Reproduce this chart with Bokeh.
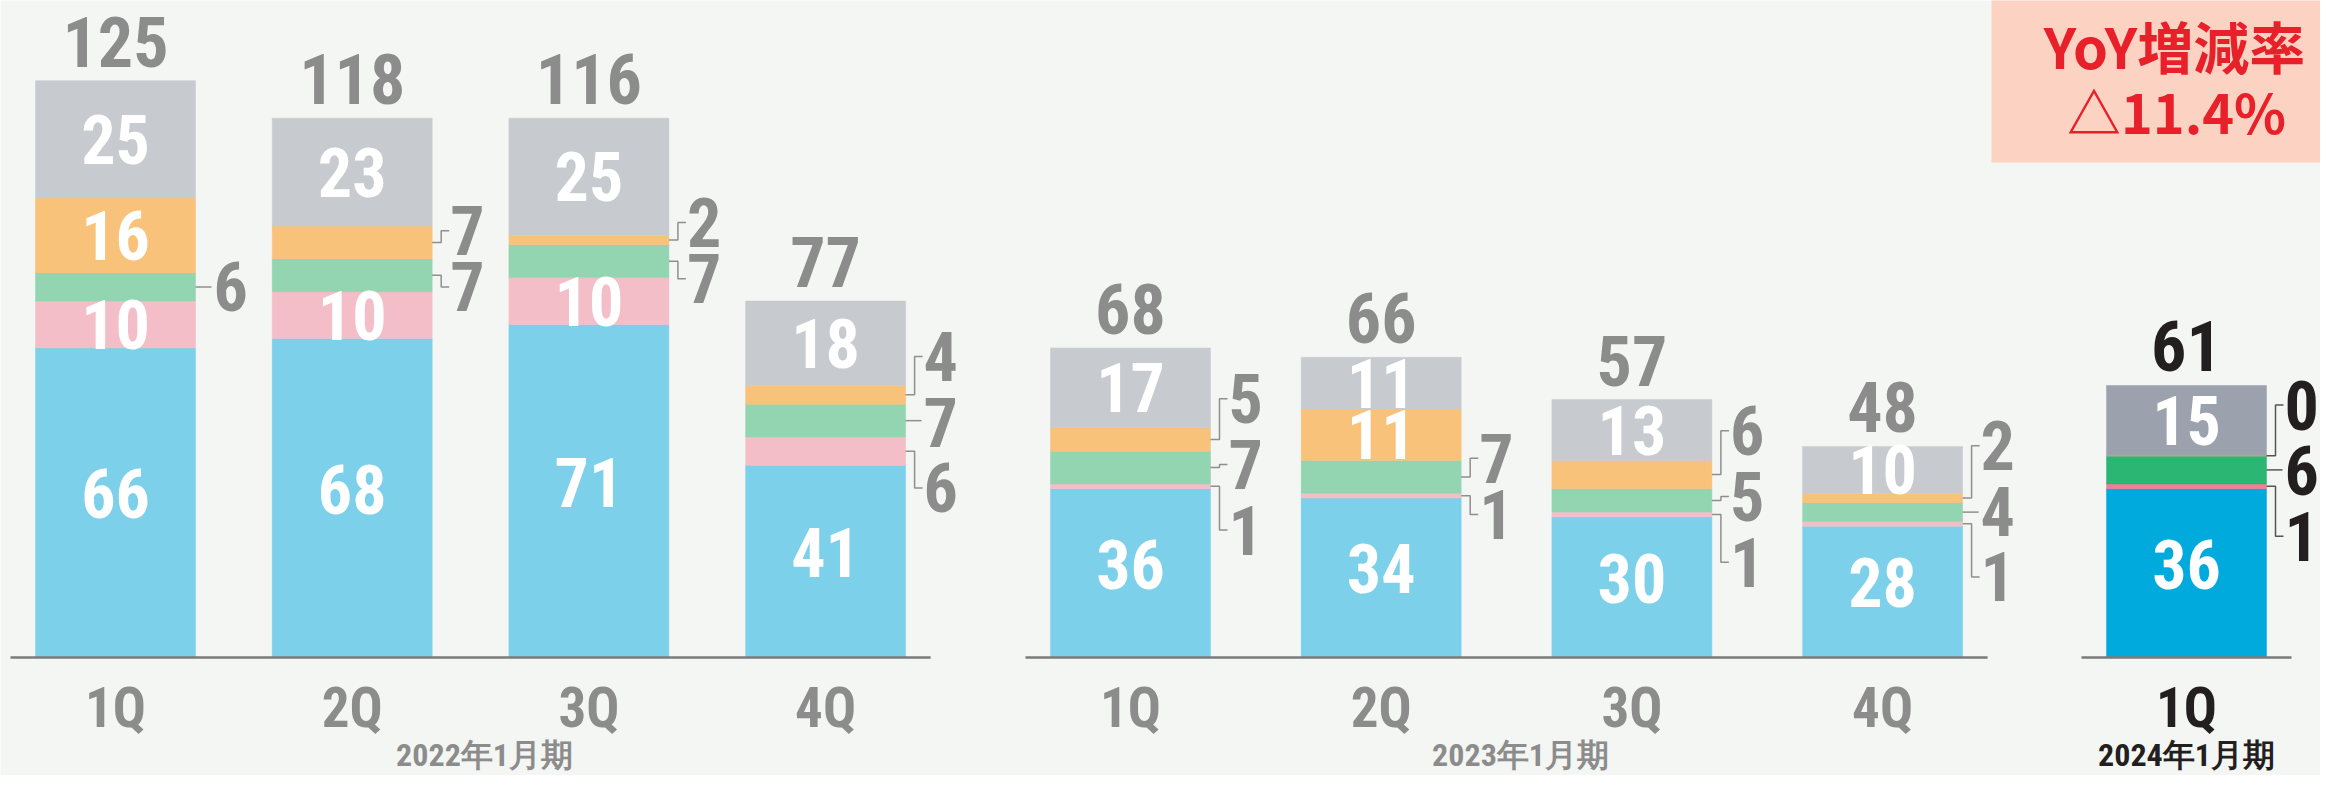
from bokeh.plotting import figure
from bokeh.models import Range1d, ColumnDataSource
from bokeh.core.properties import value
from bokeh.embed import file_html
from bokeh.resources import INLINE

# ---------------- data ----------------
groups = ["2022年1月期", "2023年1月期", "2024年1月期"]
quarters = [["1Q", "2Q", "3Q", "4Q"], ["1Q", "2Q", "3Q", "4Q"], ["1Q"]]
seg_blue = [66, 68, 71, 41, 36, 34, 30, 28, 36]
seg_pink = [10, 10, 10, 6, 1, 1, 1, 1, 1]
seg_green = [6, 7, 7, 7, 7, 7, 5, 4, 6]
seg_orange = [16, 7, 2, 4, 5, 11, 6, 2, 0]
seg_gray = [25, 23, 25, 18, 17, 11, 13, 10, 15]
totals = [125, 118, 116, 77, 68, 66, 57, 48, 61]
yoy_title = "YoY増減率"
yoy_value = "△11.4%"

# ---------------- layout / style ----------------
W, H = 2320, 775
PX = 4.69            # pixels per unit
BASE_Y = 657         # baseline position from top of frame (px)
GROUP_X0 = [115, 1130, 2186]
GROUP_STEP = [236.7, 250.7, 0]
BAR_W = 160
BG = "#F4F6F3"
GREY_TXT = "#8C8C8C"
DARK_TXT = "#231F20"
PAL_OLD = ["#7DD0EA", "#F4BEC8", "#93D5B1", "#F9C27A", "#C7CBD0"]
PAL_NEW = ["#00AADC", "#EE7F95", "#2BB673", "#F9C27A", "#9CA1AE"]
NUM_FONT = value("Roboto Condensed")
CJK_FONT = value("Noto Sans CJK JP")

series = [seg_blue, seg_pink, seg_green, seg_orange, seg_gray]

y_end = BASE_Y / PX
y_start = -(H - BASE_Y) / PX

p = figure(width=W, height=H, output_backend="svg", toolbar_location=None,
           x_range=Range1d(0, W), y_range=Range1d(y_start, y_end),
           min_border=0, background_fill_color=BG, border_fill_color=BG,
           outline_line_color=None)
p.xaxis.visible = False
p.yaxis.visible = False
p.xgrid.visible = False
p.ygrid.visible = False

# bar x positions
bar_x, bar_q, bar_new, grp_of = [], [], [], []
for g, qs in enumerate(quarters):
    for i, q in enumerate(qs):
        bar_x.append(GROUP_X0[g] + i * GROUP_STEP[g])
        bar_q.append(q)
        bar_new.append(g == len(groups) - 1)
        grp_of.append(g)

# segments
seg = dict(x=[], bottom=[], top=[], color=[])
ins = dict(x=[], y=[], text=[], yoff=[])
outs = dict(x=[], y=[], text=[], color=[])
lines = dict(xs=[], ys=[], color=[])
bar_tops = []
for b in range(len(bar_x)):
    cum = 0
    mids = []
    for s, vals in enumerate(series):
        v = vals[b]
        pal = PAL_NEW if bar_new[b] else PAL_OLD
        seg["x"].append(bar_x[b]); seg["bottom"].append(cum); seg["top"].append(cum + v)
        seg["color"].append(pal[s])
        mids.append(cum + v / 2)
        if v >= 10:
            ins["x"].append(bar_x[b]); ins["y"].append(cum + v / 2)
            ins["text"].append(str(v)); ins["yoff"].append(-9 if s == 0 else 0)
        cum += v
    bar_tops.append(cum)
    # outside labels (top to bottom)
    o = [s for s in range(len(series) - 1, -1, -1) if series[s][b] < 10]
    n = len(o)
    if n:
        S = 14 if n >= 3 else 12
        m = sum(mids[s] for s in o) / n
        xr = bar_x[b] + BAR_W / 2
        col = DARK_TXT if bar_new[b] else GREY_TXT
        for k, s in enumerate(o):
            ly = m + ((n - 1) / 2 - k) * S
            c = mids[s]
            outs["x"].append(xr + 18); outs["y"].append(ly)
            outs["text"].append(str(series[s][b])); outs["color"].append(col)
            if abs(ly - c) * PX < 2:
                lines["xs"].append([xr, xr + 16]); lines["ys"].append([c, c])
            else:
                lines["xs"].append([xr, xr + 9, xr + 9, xr + 17])
                lines["ys"].append([c, c, ly, ly])
            lines["color"].append("#555555" if bar_new[b] else "#8F8F8F")

p.vbar(x="x", width=BAR_W, bottom="bottom", top="top", fill_color="color",
       line_color="color", line_width=0.5, source=ColumnDataSource(seg))

# baselines
bl = dict(x0=[], x1=[], y=[])
for g in range(len(groups)):
    xs = [bar_x[b] for b in range(len(bar_x)) if grp_of[b] == g]
    bl["x0"].append(min(xs) - 105); bl["x1"].append(max(xs) + 105); bl["y"].append(0)
p.segment(x0="x0", y0="y", x1="x1", y1="y", line_color="#7A7A7A", line_width=2.5,
          source=ColumnDataSource(bl))

# inside labels
p.text(x="x", y="y", text="text", y_offset="yoff", source=ColumnDataSource(ins),
       text_color="#FFFFFF", text_font=NUM_FONT, text_font_style="bold",
       text_font_size="68px", text_align="center", text_baseline="middle")

# leader lines and outside labels
p.multi_line(xs="xs", ys="ys", line_color="color", line_width=1.5,
             source=ColumnDataSource(lines))
p.text(x="x", y="y", text="text", source=ColumnDataSource(outs),
       text_color="color", text_font=NUM_FONT, text_font_style="bold",
       text_font_size="68px", text_align="left", text_baseline="middle")

# totals
tot = dict(x=bar_x, y=bar_tops, text=[str(t) for t in totals],
           color=[DARK_TXT if n else GREY_TXT for n in bar_new])
p.text(x="x", y="y", text="text", y_offset=-39, source=ColumnDataSource(tot),
       text_color="color", text_font=NUM_FONT, text_font_style="bold",
       text_font_size="70px", text_align="center", text_baseline="middle")

# quarter labels
ql = dict(x=bar_x, y=[0] * len(bar_x), text=bar_q,
          color=[DARK_TXT if n else GREY_TXT for n in bar_new])
p.text(x="x", y="y", text="text", y_offset=50, source=ColumnDataSource(ql),
       text_color="color", text_font=NUM_FONT, text_font_style="bold",
       text_font_size="55px", text_align="center", text_baseline="middle")

# group labels
gl = dict(x=[], y=[], text=groups, color=[])
for g in range(len(groups)):
    xs = [bar_x[b] for b in range(len(bar_x)) if grp_of[b] == g]
    gl["x"].append(sum(xs) / len(xs) + (14 if g < len(groups) - 1 else 0))
    gl["y"].append(0)
    gl["color"].append(DARK_TXT if g == len(groups) - 1 else GREY_TXT)
p.text(x="x", y="y", text="text", y_offset=97, source=ColumnDataSource(gl),
       text_color="color", text_font=NUM_FONT, text_font_style="bold",
       text_font_size="32px", text_align="center", text_baseline="middle")

# YoY box
p.quad(left=[1991], right=[W], bottom=[(BASE_Y - 162) / PX], top=[y_end + 5],
       fill_color="#FCD3C2", line_color=None)
p.text(x=[2174], y=[(BASE_Y - 44) / PX], text=[yoy_title], text_color="#E8202A",
       text_font=CJK_FONT, text_font_style="bold", text_font_size="56px",
       text_align="center", text_baseline="middle")
p.text(x=[2176], y=[(BASE_Y - 110) / PX], text=[yoy_value], text_color="#E8202A",
       text_font=CJK_FONT, text_font_style="bold", text_font_size="54px",
       text_align="center", text_baseline="middle")

open("out.html", "w").write(file_html(p, INLINE))
